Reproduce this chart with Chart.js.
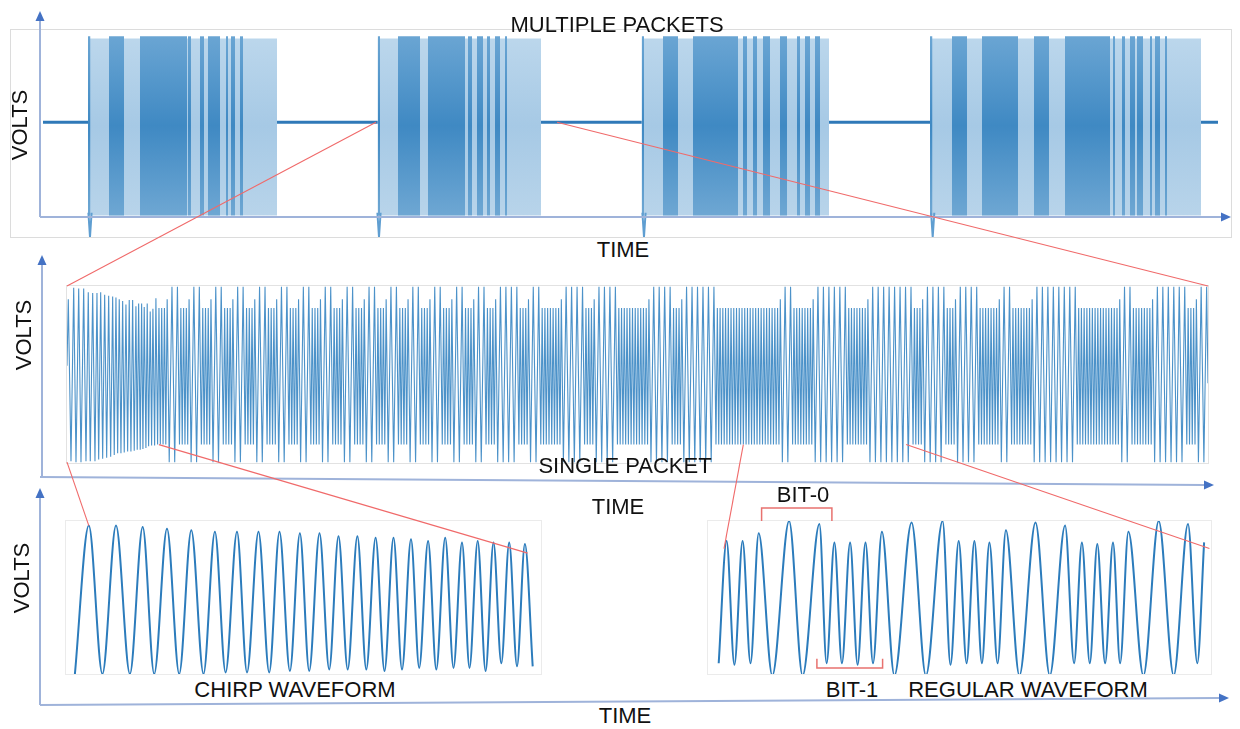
<!DOCTYPE html>
<html>
<head>
<meta charset="utf-8">
<script src="https://cdn.jsdelivr.net/npm/chart.js@4.4.1/dist/chart.umd.min.js"></script>
<style>
  body { margin:0; background:#fff; width:1240px; height:729px; overflow:hidden; position:relative; font-family:"Liberation Sans", Arial, sans-serif; }
  .box { position:absolute; box-sizing:border-box; border:1px solid #dcdcdc; }
  .box canvas { display:block; }
  .lbl { position:absolute; font-size:22px; color:#111; white-space:nowrap; line-height:1; transform:translate(-50%,-50%); z-index:3; }
  .volts { transform:translate(-50%,-50%) rotate(-90deg); }
  #overlay { position:absolute; left:0; top:0; z-index:5; pointer-events:none; }
</style>
</head>
<body>

<div class="box" style="left:10px;top:29px;width:1222px;height:209px"><canvas id="topChart" width="1220" height="207"></canvas></div>
<div class="box" style="left:66px;top:285px;width:1143px;height:179px;border-color:#e2e2e2"><canvas id="midChart" width="1141" height="177"></canvas></div>
<div class="box" style="left:65px;top:520px;width:477px;height:155px;border-color:#ebebeb"><canvas id="chirpChart" width="475" height="153"></canvas></div>
<div class="box" style="left:707px;top:520px;width:505px;height:155px;border-color:#ebebeb"><canvas id="regChart" width="503" height="153"></canvas></div>

<div class="lbl" style="left:617px;top:25px">MULTIPLE PACKETS</div>
<div class="lbl volts" style="left:20px;top:125px">VOLTS</div>
<div class="lbl" style="left:623px;top:250px">TIME</div>
<div class="lbl volts" style="left:24px;top:335px">VOLTS</div>
<div class="lbl" style="left:625px;top:466px">SINGLE PACKET</div>
<div class="lbl" style="left:618px;top:507px">TIME</div>
<div class="lbl volts" style="left:22px;top:578px">VOLTS</div>
<div class="lbl" style="left:803px;top:495px">BIT-0</div>
<div class="lbl" style="left:295px;top:690px">CHIRP WAVEFORM</div>
<div class="lbl" style="left:852px;top:690px">BIT-1</div>
<div class="lbl" style="left:1028px;top:690px">REGULAR WAVEFORM</div>
<div class="lbl" style="left:625px;top:716px">TIME</div>

<canvas id="overlay" width="1240" height="729"></canvas>

<script>
// ---------- multiple packets (top) ----------
const packetStart = [77, 366.7, 630.7, 919];
const packetEnd   = [266, 530, 818, 1190];
const darkStart = [77, 98, 129, 177, 189, 197, 215, 220, 229,
                   366.7, 387, 417, 457, 466, 476, 484, 494,
                   630.7, 652, 682, 732, 742, 752, 769, 786, 794, 804,
                   919, 941, 971, 1023, 1054, 1102, 1111, 1119, 1126, 1139, 1144, 1154];
const darkEnd   = [79.5, 113, 176, 180, 193, 209, 217, 224, 232,
                   369, 409, 454, 461, 472, 479, 489, 496,
                   633, 667, 727, 736, 746, 759, 776, 789, 799, 809,
                   921.5, 956, 1007, 1038, 1099, 1104, 1114, 1124, 1132, 1141, 1149, 1156];
const idleStart = [32, 266, 530, 818, 1190];
const idleEnd   = [77, 366.7, 630.7, 919, 1207];
const idleLevel = 0.055;
const spikeT = [79, 368, 633, 921.7];
const spikeLow = -1.22;
const bandTop = 0.985, darkTop = 1.01, bandBottom = -0.98;

// ---------- single packet (middle) ----------
const midChirpT = [0, 1.3, 4, 6.7, 9, 11.7, 14, 16.7, 19, 21.3, 23.3, 25.7, 28, 30, 31.7, 33.7, 35.7,
                   37.7, 39.7, 41.7, 43.7, 45.7, 47.3, 49, 50.7, 52.3, 54, 55.7, 57.3, 59, 60.7, 62.3,
                   64, 65.7, 67.3, 69, 70.3, 71.7, 73.3, 74.7, 76, 77.3, 79, 80.3, 81.7, 83.3, 84.7, 86, 87.7, 89];
const midChirpV = [0.1, 0.86, -0.99, 0.99, -1.0, 0.98, -1.0, 0.98, -0.99, 0.94, -0.99, 0.93, -0.99, 0.93, -0.97,
                   0.94, -0.96, 0.91, -0.95, 0.90, -0.94, 0.89, -0.92, 0.88, -0.90, 0.86, -0.90, 0.84, -0.89,
                   0.80, -0.88, 0.85, -0.88, 0.85, -0.87, 0.78, -0.86, 0.81, -0.86, 0.81, -0.85, 0.77, -0.84,
                   0.81, -0.82, 0.72, -0.81, 0.75, -0.81, 0.87];
// one letter per cycle: T = bit-0 cycle, S = bit-1 cycle, M = last bit-1 cycle before a bit-0
const midRuns = [
  'SSSM', 'TT', 'SSSM', 'TT', 'SSSM', 'TT', 'SSSM', 'TT', 'SSSM', 'TT', 'SSSM', 'TT', 'SSSM', 'TT', 'SSSM', 'TT', 'SSSM',
  'TT', 'SSSM', 'TT', 'SSSM', 'TT', 'SSSM', 'TT', 'SSSM', 'TT', 'SSSM', 'TT', 'SSSM', 'TT', 'SSSM',
  'TTTT', 'SSSM', 'TT', 'SSSSSSSM', 'TTTT', 'SSSM', 'TTTT',
  'SSSSSSSSSSSM', 'TTTT', 'SSSM', 'TTTTTT', 'SSSSSSSSSSSSSSSSSSSSSSSM', 'TT', 'SSSSSSSM', 'TTTTTT', 'SSSSSSSM', 'TTTTTTTT', 'SSSM',
  'TTTT', 'SSSM', 'TTTT', 'SSSSSSSM', 'TT', 'SSSSSSSM', 'TTTTTTTT', 'SSSSSSSSSSSSSSSM', 'TT', 'SSSSSSSM', 'TTTTTT', 'SSSM', 'TT'
];
const cycleHalf = { T: 2.74, S: 1.37, M: 1.37 };
const cyclePeak = { T: 1.0, S: 0.76, M: 0.86 };
const cycleTrough = { T: -1.0, S: -0.8, M: -0.8 };
const midEndV = -0.1;

// ---------- chirp waveform (bottom left) ----------
const chirpStart = [8.9, 0.0], chirpEnd = [466.7, 0.05];
const chirpPeakT = [22.8, 50, 76.7, 101, 125.3, 148.9, 171, 192.5, 213.5, 233.9, 253.5, 272.5, 291.4, 309.6, 327.5, 345, 362.1, 379.2, 396, 411.7, 427.5, 443.2, 458.9];
const chirpPeakV = [0.97, 0.97, 0.96, 0.95, 0.94, 0.93, 0.93, 0.93, 0.93, 0.92, 0.92, 0.90, 0.90, 0.89, 0.89, 0.88, 0.87, 0.89, 0.86, 0.87, 0.86, 0.86, 0.85];
const chirpTroughT = [36.4, 63.9, 88.2, 113.2, 137.5, 159.6, 181, 203.2, 223.9, 243.2, 263.2, 281.7, 300.3, 318.5, 336, 353.2, 370.3, 387.5, 403.5, 419.6, 435.3, 451.0];
const chirpTroughV = [0, 0, 0, 0, 0, 0.01, 0.01, 0.01, 0.02, 0.02, 0.03, 0.03, 0.03, 0.02, 0.03, 0.04, 0.03, 0.04, 0.04, 0.02, 0.07, 0.05];

// ---------- regular waveform (bottom right) ----------
const regT = [10.7, 18.6, 26.4, 34.6, 42.5, 50.7, 64.3, 81.1, 94.6, 111.4, 118.6, 126.4, 133.9, 142.1, 149.6, 157.5,
              165, 173.9, 186.4, 203.6, 217.9, 234.6, 242.5, 250.7, 258.6, 266.4, 273.9, 281.4, 289.6, 297.9, 311.4,
              327.5, 341.8, 357.1, 366.1, 373.9, 381.8, 389.3, 397.1, 405, 412.1, 420.4, 435.4, 450.7, 465.7, 480, 489.3, 496.1];
const regV = [0.07, 0.87, 0.06, 0.87, 0.07, 0.92, -0.01, 1.0, -0.01, 0.98, 0.07, 0.86, 0.07, 0.86, 0.06, 0.86,
              0.07, 0.93, -0.01, 0.99, -0.01, 1.0, 0.06, 0.87, 0.07, 0.87, 0.07, 0.86, 0.07, 0.94, -0.01,
              0.99, -0.01, 0.97, 0.07, 0.86, 0.07, 0.85, 0.07, 0.86, 0.07, 0.93, -0.01, 1.0, -0.01, 0.98, 0.07, 0.86];
const bit0Span = [53.6, 123.9];
const bit1Span = [108.9, 174.6];

// zoom connectors: [from chart, t, v, to chart, t, v]
const zoomLinks = [
  ['top', 365, idleLevel, 'mid', 0, 1.01],
  ['top', 546, idleLevel, 'mid', 'end', 1.01],
  ['mid', 0, -1.0, 'chirp', 22.8, 0.97],
  ['mid', 92, -0.8, 'chirp', 461.6, 0.79],
  ['mid', 677, -0.8, 'reg', 16, 0.82],
  ['mid', 840, -0.8, 'reg', 501.4, 0.82]
];

const waveBlue = '#2c7cbc';

function baseOptions(xMin, xMax, yMin, yMax) {
  return {
    responsive: false,
    animation: false,
    devicePixelRatio: 1,
    layout: { padding: 0 },
    events: [],
    plugins: { legend: { display: false }, tooltip: { enabled: false } },
    elements: { point: { radius: 0 } },
    scales: {
      x: { type: 'linear', min: xMin, max: xMax, display: false },
      y: { type: 'linear', min: yMin, max: yMax, display: false }
    }
  };
}

function vGrad(c0, c1, c2) {
  return function (ctx) {
    const chart = ctx.chart;
    if (!chart.chartArea) return c1;
    const y0 = chart.scales.y.getPixelForValue(darkTop);
    const y1 = chart.scales.y.getPixelForValue(bandBottom);
    const g = chart.ctx.createLinearGradient(0, y0, 0, y1);
    g.addColorStop(0, c0);
    g.addColorStop(0.5, c1);
    g.addColorStop(1, c2);
    return g;
  };
}
const lightFill = vGrad('#bcd7ec', '#a6c9e5', '#b8d4ea');
const darkFill = vGrad('#6aa5d3', '#3f89c3', '#6ea7d3');

// lower "order" is drawn on top
function band(s, e, top, fillColor, order) {
  return {
    data: [{ x: s, y: top }, { x: e, y: top }],
    fill: { value: bandBottom },
    backgroundColor: fillColor,
    borderWidth: 0,
    pointRadius: 0,
    order: order
  };
}

// top chart
const topSets = [];
packetStart.forEach((s, i) => topSets.push(band(s, packetEnd[i], bandTop, lightFill, 3)));
darkStart.forEach((s, i) => topSets.push(band(s, darkEnd[i], darkTop, darkFill, 2)));
const idlePts = [];
idleStart.forEach((s, i) => {
  idlePts.push({ x: s, y: idleLevel }, { x: idleEnd[i], y: idleLevel }, { x: idleEnd[i] + 0.1, y: null });
});
topSets.push({ data: idlePts, borderColor: '#2f79b8', borderWidth: 3, spanGaps: false, fill: false, order: 1 });
const spikePts = [];
spikeT.forEach(t => {
  spikePts.push({ x: t - 1.6, y: -0.95 }, { x: t, y: spikeLow }, { x: t + 1.6, y: -0.95 }, { x: t + 1.7, y: null });
});
topSets.push({ data: spikePts, borderColor: '#5f9ed1', borderWidth: 2, spanGaps: false, fill: false, clip: false, order: 0 });

const topChart = new Chart('topChart', {
  type: 'line',
  data: { datasets: topSets },
  options: baseOptions(0, 1220, -1.22, 1.08)
});

// middle chart
const midPts = midChirpT.map((t, i) => ({ x: t, y: midChirpV[i] }));
let tNow = midChirpT[midChirpT.length - 1] + 1;
midRuns.forEach(run => {
  for (const c of run) {
    const h = cycleHalf[c];
    midPts.push({ x: tNow + h / 2, y: cycleTrough[c] });
    midPts.push({ x: tNow + 1.5 * h, y: cyclePeak[c] });
    tNow += 2 * h;
  }
});
midPts.push({ x: tNow, y: midEndV });

const midChart = new Chart('midChart', {
  type: 'line',
  data: { datasets: [{ data: midPts, borderColor: 'rgba(45,127,191,0.85)', borderWidth: 1.1, tension: 0, fill: false, clip: false }] },
  options: baseOptions(0, tNow, -1.01, 1.01)
});

// chirp chart
const chirpPts = [{ x: chirpStart[0], y: chirpStart[1] }];
chirpPeakT.forEach((t, i) => {
  chirpPts.push({ x: t, y: chirpPeakV[i] });
  if (i < chirpTroughT.length) chirpPts.push({ x: chirpTroughT[i], y: chirpTroughV[i] });
});
chirpPts.push({ x: chirpEnd[0], y: chirpEnd[1] });

const chirpChart = new Chart('chirpChart', {
  type: 'line',
  data: { datasets: [{ data: chirpPts, borderColor: waveBlue, borderWidth: 2, cubicInterpolationMode: 'monotone', fill: false, clip: false }] },
  options: baseOptions(0, 475, 0, 1)
});

// regular chart
const regChart = new Chart('regChart', {
  type: 'line',
  data: { datasets: [{ data: regT.map((t, i) => ({ x: t, y: regV[i] })), borderColor: waveBlue, borderWidth: 2, cubicInterpolationMode: 'monotone', fill: false, clip: false }] },
  options: baseOptions(0, 503, 0, 1)
});

const charts = { top: topChart, mid: midChart, chirp: chirpChart, reg: regChart };

function pagePt(name, t, v) {
  const c = charts[name];
  const r = c.canvas.getBoundingClientRect();
  if (t === 'end') t = c.scales.x.max;
  return [r.left + c.scales.x.getPixelForValue(t), r.top + c.scales.y.getPixelForValue(v)];
}

function arrowAxis(ctx, x1, y1, x2, y2) {
  const a = Math.atan2(y2 - y1, x2 - x1);
  const len = 10, hw = 4.5;
  const bx = x2 - len * Math.cos(a), by = y2 - len * Math.sin(a);
  ctx.strokeStyle = '#9fb3da';
  ctx.lineWidth = 2;
  ctx.beginPath();
  ctx.moveTo(x1, y1);
  ctx.lineTo(bx, by);
  ctx.stroke();
  ctx.fillStyle = '#4472c4';
  ctx.beginPath();
  ctx.moveTo(x2, y2);
  ctx.lineTo(bx + hw * Math.sin(a), by - hw * Math.cos(a));
  ctx.lineTo(bx - hw * Math.sin(a), by + hw * Math.cos(a));
  ctx.closePath();
  ctx.fill();
}

function bracket(ctx, span, vLine, vLeg) {
  const p1 = pagePt('reg', span[0], vLine), p2 = pagePt('reg', span[1], vLine);
  const l1 = pagePt('reg', span[0], vLeg), l2 = pagePt('reg', span[1], vLeg);
  ctx.strokeStyle = '#e8726f';
  ctx.lineWidth = 1.5;
  ctx.beginPath();
  ctx.moveTo(l1[0], l1[1]);
  ctx.lineTo(p1[0], p1[1]);
  ctx.lineTo(p2[0], p2[1]);
  ctx.lineTo(l2[0], l2[1]);
  ctx.stroke();
}

// overlay: axes, zoom lines and bit brackets
new Chart('overlay', {
  type: 'scatter',
  data: { datasets: [] },
  options: {
    responsive: false, animation: false, devicePixelRatio: 1, events: [],
    plugins: { legend: { display: false }, tooltip: { enabled: false } },
    scales: { x: { display: false }, y: { display: false } }
  },
  plugins: [{
    id: 'decor',
    afterDraw(chart) {
      const ctx = chart.ctx;
      ctx.save();
      arrowAxis(ctx, 40, 217, 40, 11);
      arrowAxis(ctx, 40, 217, 1231, 217);
      arrowAxis(ctx, 42, 477, 42, 255);
      arrowAxis(ctx, 40, 477, 1214, 485);
      arrowAxis(ctx, 40, 705, 40, 488);
      arrowAxis(ctx, 40, 705, 1229, 698);

      ctx.strokeStyle = '#f06a6a';
      ctx.lineWidth = 1.1;
      zoomLinks.forEach(l => {
        const a = pagePt(l[0], l[1], l[2]), b = pagePt(l[3], l[4], l[5]);
        ctx.beginPath();
        ctx.moveTo(a[0], a[1]);
        ctx.lineTo(b[0], b[1]);
        ctx.stroke();
      });

      bracket(ctx, bit0Span, 1.085, 1.0);
      bracket(ctx, bit1Span, 0.04, 0.1);
      ctx.restore();
    }
  }]
});
</script>
</body>
</html>
